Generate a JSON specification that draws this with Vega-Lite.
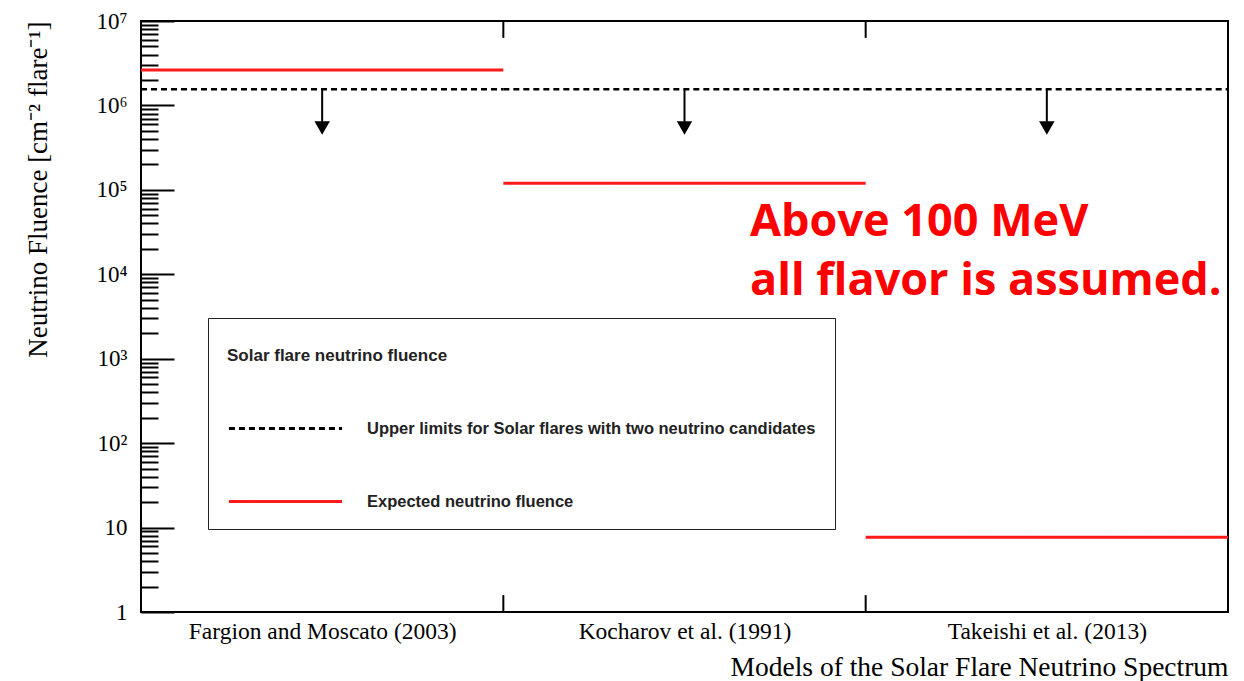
{
  "$schema": "https://vega.github.io/schema/vega-lite/v6.json",
  "width": 1087,
  "height": 591,
  "autosize": "none",
  "padding": {"left": 141, "top": 21, "right": 16, "bottom": 69},
  "background": "white",
  "config": {
    "view": {"stroke": "#000", "strokeWidth": 2},
    "axis": {"grid": false}
  },
  "datasets": {
    "limits": [
      {"model": "Fargion and Moscato (2003)", "start": 0, "end": 1, "mid": 0.5, "limit": 1550000, "arrow_end": 640000, "arrow_tip": 540000, "series": "Upper limits for Solar flares with two neutrino candidates"},
      {"model": "Kocharov et al. (1991)", "start": 1, "end": 2, "mid": 1.5, "limit": 1550000, "arrow_end": 640000, "arrow_tip": 540000, "series": "Upper limits for Solar flares with two neutrino candidates"},
      {"model": "Takeishi et al. (2013)", "start": 2, "end": 3, "mid": 2.5, "limit": 1550000, "arrow_end": 640000, "arrow_tip": 540000, "series": "Upper limits for Solar flares with two neutrino candidates"}
    ],
    "fluence": [
      {"model": "Fargion and Moscato (2003)", "start": 0, "end": 1, "fluence": 2630000, "series": "Expected neutrino fluence"},
      {"model": "Kocharov et al. (1991)", "start": 1, "end": 2, "fluence": 120000, "series": "Expected neutrino fluence"},
      {"model": "Takeishi et al. (2013)", "start": 2, "end": 3, "fluence": 7.7, "series": "Expected neutrino fluence"}
    ],
    "dividers": [{"edge": 1}, {"edge": 2}]
  },
  "layer": [
    {
      "data": {"name": "limits"},
      "mark": {"type": "rule", "strokeWidth": 2.5},
      "encoding": {
        "x": {
          "field": "start", "type": "quantitative",
          "scale": {"domain": [0, 3], "nice": false, "zero": false},
          "axis": {
            "values": [0.5, 1.5, 2.5],
            "labelExpr": "datum.value < 1 ? 'Fargion and Moscato (2003)' : datum.value < 2 ? 'Kocharov et al. (1991)' : 'Takeishi et al. (2013)'",
            "ticks": false, "domain": false,
            "labelFont": "Liberation Serif", "labelFontSize": 23.5, "labelColor": "#000", "labelPadding": 7, "labelLimit": 0,
            "labelFlush": false, "labelOverlap": false,
            "title": "Models of the Solar Flare Neutrino Spectrum",
            "titleFont": "Liberation Serif", "titleFontSize": 27.5, "titleFontWeight": "normal", "titleColor": "#000",
            "titleAnchor": "end", "titlePadding": 11
          }
        },
        "x2": {"field": "end"},
        "y": {
          "field": "limit", "type": "quantitative",
          "scale": {"type": "log", "domain": [1, 10000000], "nice": false},
          "axis": {
            "values": [1, 10, 100, 1000, 10000, 100000, 1000000, 10000000],
            "labelExpr": "['1','10','10²','10³','10⁴','10⁵','10⁶','10⁷'][round(log(datum.value)/LN10)]",
            "tickSize": -33, "tickColor": "#000", "tickWidth": 2, "domain": false,
            "labelFont": "Liberation Serif", "labelFontSize": 23, "labelColor": "#000", "labelPadding": 47,
            "labelFlush": false, "labelOverlap": false, "labelBaseline": "middle",
            "title": "Neutrino Fluence [cm⁻² flare⁻¹]",
            "titleFont": "Liberation Serif", "titleFontSize": 27, "titleFontWeight": "normal", "titleColor": "#000",
            "titleAnchor": "end", "titlePadding": 43
          }
        },
        "color": {
          "field": "series", "type": "nominal",
          "scale": {"domain": ["Upper limits for Solar flares with two neutrino candidates", "Expected neutrino fluence"], "range": ["#000000", "#ff1a1a"]},
          "legend": {
            "title": "Solar flare neutrino fluence", "orient": "none", "legendX": 67, "legendY": 297,
            "symbolType": "stroke", "symbolSize": 12800, "symbolStrokeWidth": 3,
            "labelOffset": 23, "labelFont": "Liberation Sans", "labelFontWeight": "bold", "labelFontSize": 16.5, "labelColor": "#222", "labelLimit": 0,
            "titleFont": "Liberation Sans", "titleFontWeight": "bold", "titleFontSize": 17, "titleColor": "#222", "titleLimit": 0,
            "titleBaseline": "line-top", "titleLineHeight": 39,
            "strokeColor": "#222", "padding": 19, "rowPadding": 6, "titlePadding": 16
          }
        },
        "strokeDash": {
          "field": "series", "type": "nominal",
          "scale": {"domain": ["Upper limits for Solar flares with two neutrino candidates", "Expected neutrino fluence"], "range": [[6, 4], [1, 0]]},
          "legend": {
            "title": "Solar flare neutrino fluence", "orient": "none", "legendX": 67, "legendY": 297,
            "symbolType": "stroke", "symbolSize": 12800, "symbolStrokeWidth": 3,
            "labelOffset": 23, "labelFont": "Liberation Sans", "labelFontWeight": "bold", "labelFontSize": 16.5, "labelColor": "#222", "labelLimit": 0,
            "titleFont": "Liberation Sans", "titleFontWeight": "bold", "titleFontSize": 17, "titleColor": "#222", "titleLimit": 0,
            "titleBaseline": "line-top", "titleLineHeight": 39,
            "strokeColor": "#222", "padding": 19, "rowPadding": 6, "titlePadding": 16
          }
        }
      }
    },
    {
      "data": {"name": "fluence"},
      "mark": {"type": "rule", "strokeWidth": 3},
      "encoding": {
        "x": {"field": "start", "type": "quantitative"},
        "x2": {"field": "end"},
        "y": {
          "field": "fluence", "type": "quantitative",
          "axis": {
            "orient": "left",
            "values": [2, 3, 4, 5, 6, 7, 8, 9, 20, 30, 40, 50, 60, 70, 80, 90, 200, 300, 400, 500, 600, 700, 800, 900, 2000, 3000, 4000, 5000, 6000, 7000, 8000, 9000, 20000, 30000, 40000, 50000, 60000, 70000, 80000, 90000, 200000, 300000, 400000, 500000, 600000, 700000, 800000, 900000, 2000000, 3000000, 4000000, 5000000, 6000000, 7000000, 8000000, 9000000],
            "tickSize": -17, "tickColor": "#000", "tickWidth": 2, "labels": false, "domain": false, "title": null
          }
        },
        "color": {"field": "series", "type": "nominal"},
        "strokeDash": {"field": "series", "type": "nominal"}
      }
    },
    {
      "data": {"name": "limits"},
      "mark": {"type": "rule", "strokeWidth": 2, "color": "#000"},
      "encoding": {
        "x": {"field": "mid", "type": "quantitative"},
        "y": {"field": "limit", "type": "quantitative", "axis": null},
        "y2": {"field": "arrow_end"}
      }
    },
    {
      "data": {"name": "limits"},
      "mark": {"type": "point", "shape": "triangle-down", "filled": true, "color": "#000", "size": 240, "opacity": 1},
      "encoding": {
        "x": {"field": "mid", "type": "quantitative"},
        "y": {"field": "arrow_tip", "type": "quantitative", "axis": null}
      }
    },
    {
      "data": {"name": "dividers"},
      "mark": {"type": "rule", "strokeWidth": 2, "color": "#000"},
      "encoding": {
        "x": {"field": "edge", "type": "quantitative"},
        "y": {"datum": 1, "type": "quantitative", "axis": null},
        "y2": {"datum": 1.585}
      }
    },
    {
      "data": {"name": "dividers"},
      "mark": {"type": "rule", "strokeWidth": 2, "color": "#000"},
      "encoding": {
        "x": {"field": "edge", "type": "quantitative"},
        "y": {"datum": 10000000, "type": "quantitative", "axis": null},
        "y2": {"datum": 6310000}
      }
    },
    {
      "data": {"values": [{"note": "Above 100 MeV"}]},
      "mark": {"type": "text", "text": ["Above 100 MeV", "all flavor is assumed."], "font": "Open Sans", "fontWeight": "bold", "fontSize": 45, "color": "#ff0000", "align": "left", "baseline": "alphabetic", "lineHeight": 59},
      "encoding": {
        "x": {"datum": 1.6808, "type": "quantitative"},
        "y": {"datum": 28410, "type": "quantitative", "axis": null}
      }
    }
  ],
  "resolve": {"axis": {"y": "independent"}}
}
